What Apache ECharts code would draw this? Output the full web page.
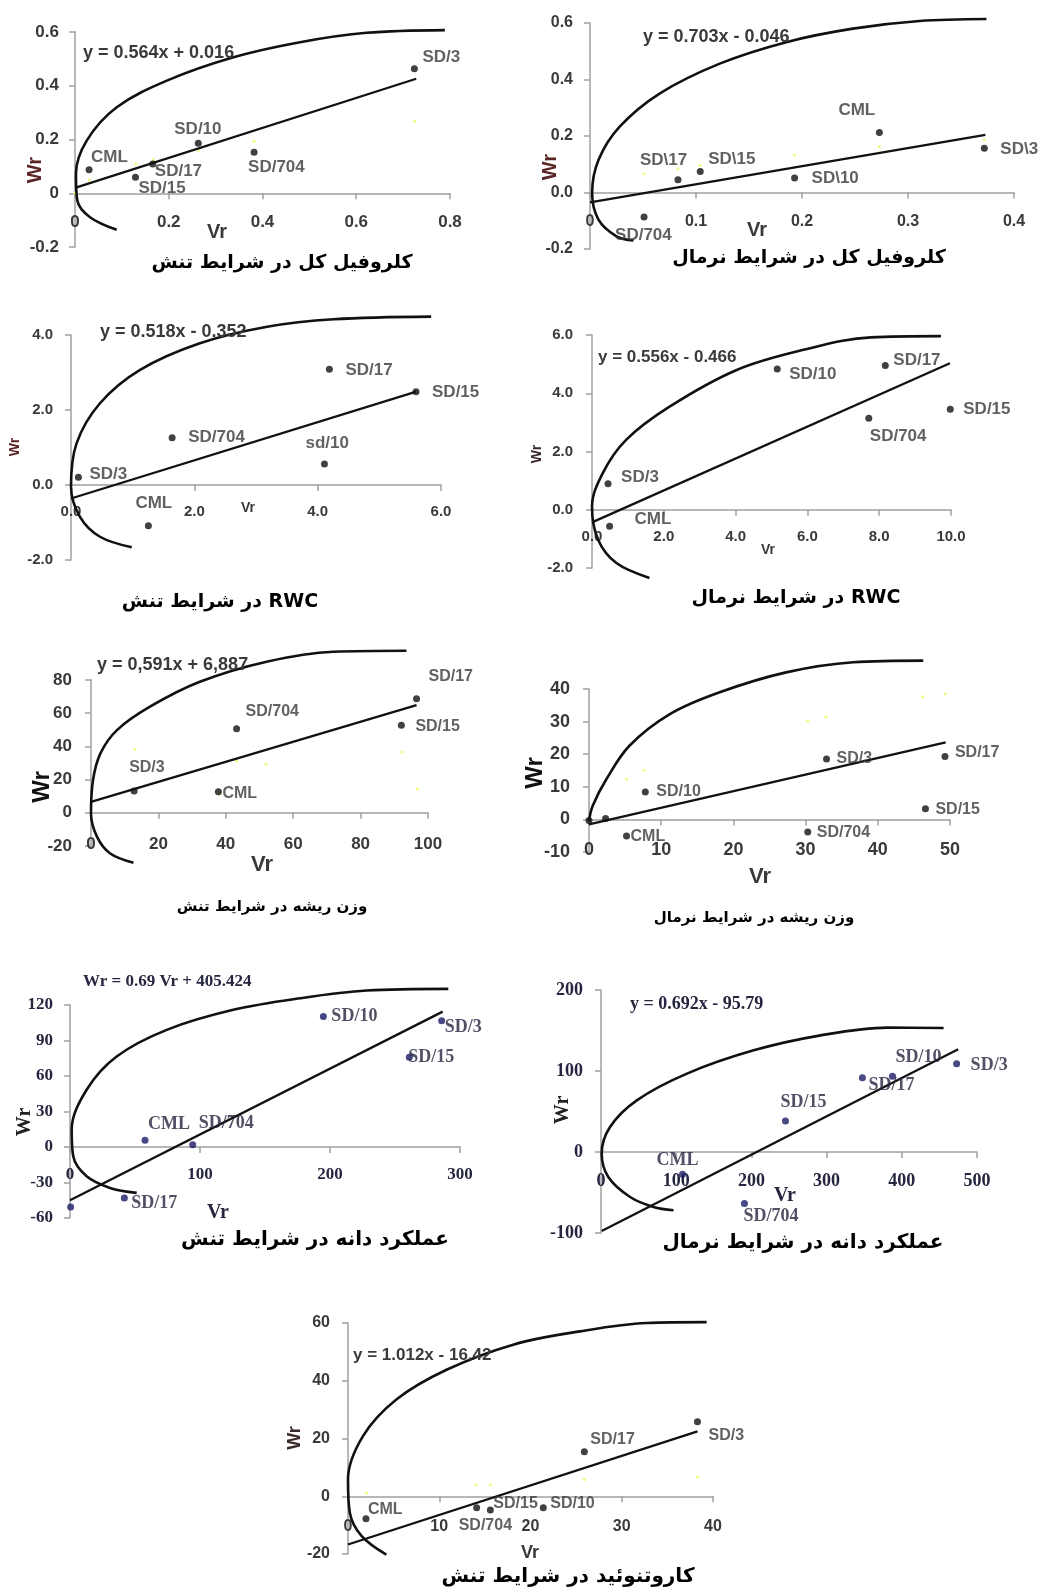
<!DOCTYPE html>
<html>
<head>
<meta charset="utf-8">
<script src="https://cdn.jsdelivr.net/npm/echarts@6/dist/echarts.min.js"></script>
<style>
  html, body { margin: 0; padding: 0; background: #fff; }
  #chart { width: 1041px; height: 1594px; }
</style>
</head>
<body>
<div id="chart"></div>
<script>
// ---- data (Vr, Wr per genotype) ----
// chlorophyll, stress
const p1Names = ['CML', 'SD/15', 'SD/17', 'SD/10', 'SD/704', 'SD/3'];
const p1Vr = [0.03, 0.129, 0.166, 0.263, 0.382, 0.724];
const p1Wr = [0.087, 0.06, 0.109, 0.186, 0.153, 0.463];
const p1Fit = [[0, 0.02], [0.728, 0.426]];
const p1Curve = [[0.789, 0.607], [0.622, 0.597], [0.48, 0.562], [0.338, 0.506], [0.196, 0.419], [0.089, 0.32], [0.025, 0.196], [0.002, 0.072], [0.005, -0.027], [0.032, -0.089], [0.089, -0.136]];
const p1Yellow = [[0, 0], [0.03, 0.05], [0.13, 0.11], [0.166, 0.125], [0.263, 0.16], [0.382, 0.193], [0.724, 0.267]];

// chlorophyll, normal
const p2Names = ['SD/704', 'SD\\17', 'SD\\15', 'SD\\10', 'CML', 'SD\\3'];
const p2Vr = [0.051, 0.083, 0.104, 0.193, 0.273, 0.372];
const p2Wr = [-0.087, 0.045, 0.074, 0.051, 0.212, 0.157];
const p2Fit = [[0, -0.035], [0.373, 0.204]];
const p2Curve = [[0.374, 0.614], [0.311, 0.607], [0.248, 0.58], [0.186, 0.533], [0.123, 0.457], [0.066, 0.351], [0.028, 0.233], [0.008, 0.115], [0.002, -0.002], [0.008, -0.096], [0.025, -0.155], [0.041, -0.17]];
const p2Yellow = [[0.051, 0.066], [0.083, 0.084], [0.104, 0.096], [0.193, 0.133], [0.273, 0.162], [0.372, 0.188]];

// RWC, stress
const p3Names = ['SD/3', 'CML', 'SD/704', 'sd/10', 'SD/17', 'SD/15'];
const p3Vr = [0.12, 1.255, 1.64, 4.11, 4.19, 5.595];
const p3Wr = [0.205, -1.085, 1.262, 0.56, 3.085, 2.49];
const p3Fit = [[0, -0.36], [5.6, 2.49]];
const p3Curve = [[5.84, 4.49], [4.26, 4.42], [3.18, 4.22], [2.09, 3.78], [1.12, 3.07], [0.47, 2.18], [0.09, 1.11], [0, -0.04], [0.146, -0.85], [0.47, -1.38], [0.985, -1.66]];
const p3Yellow = [];

// RWC, normal
const p4Names = ['SD/3', 'CML', 'SD/10', 'SD/704', 'SD/17', 'SD/15'];
const p4Vr = [0.447, 0.49, 5.16, 7.71, 8.17, 9.98];
const p4Wr = [0.89, -0.57, 4.83, 3.14, 4.95, 3.45];
const p4Fit = [[0, -0.435], [9.97, 5.03]];
const p4Curve = [[9.72, 5.96], [7.77, 5.92], [5.89, 5.49], [4.03, 4.8], [2.16, 3.54], [0.95, 2.4], [0.3, 1.26], [0, 0.11], [0.17, -1.03], [0.68, -1.83], [1.6, -2.34]];
const p4Yellow = [];

// root weight, stress
const p5Names = ['SD/3', 'CML', 'SD/704', 'SD/15', 'SD/17'];
const p5Vr = [12.8, 37.8, 43.2, 92.1, 96.6];
const p5Wr = [13.1, 12.7, 50.6, 52.8, 68.7];
const p5Fit = [[0, 6.6], [96.6, 64.9]];
const p5Curve = [[93.6, 97.6], [71.9, 97], [52.1, 91], [32.3, 78.9], [17.5, 63.9], [7.7, 49.8], [2.8, 35.8], [0.6, 19.7], [0, -0.4], [1.8, -14.5], [5.7, -24.5], [12.6, -30.1]];
const p5Yellow = [[13.1, 38.2], [43.2, 31.3], [51.9, 29.3], [92.3, 36.7], [96.8, 14.3], [38, 11.3]];

// root weight, normal
const p6Names = ['', '', 'CML', 'SD/10', 'SD/704', 'SD/3', 'SD/15', 'SD/17'];
const p6Vr = [0, 2.3, 5.2, 7.8, 30.3, 32.9, 46.6, 49.3];
const p6Wr = [-0.3, 0.3, -5.1, 8.4, -3.9, 18.5, 3.3, 19.3];
const p6Fit = [[0, -1.5], [49.4, 23.6]];
const p6Curve = [[46.3, 48.7], [36.6, 48.2], [27.3, 45.1], [18.1, 39], [11.2, 32.3], [5.6, 22.6], [2.4, 12.3], [0.5, 4.1], [0, -0.5]];
const p6Yellow = [[5.2, 12.3], [7.6, 15.1], [30.3, 30.1], [32.8, 31.5], [46.2, 37.6], [49.3, 38.5]];

// grain yield, stress
const p7Names = ['', 'SD/17', 'CML', 'SD/704', 'SD/10', 'SD/15', 'SD/3'];
const p7Vr = [0.5, 41.8, 57.7, 94.4, 194.9, 261, 285.9];
const p7Wr = [-50.6, -43, 5.6, 1.9, 110.2, 75.9, 106.6];
const p7Fit = [[0, -45], [286.7, 114.4]];
const p7Curve = [[291, 133.6], [228.2, 132.2], [176.9, 125.7], [125.6, 115.9], [74.4, 99], [35.9, 76.5], [12.8, 48.4], [1.3, 14.6], [2.5, -7.9], [12.8, -24.8], [30.8, -34.6], [51.3, -38.8]];
const p7Yellow = [];

// grain yield, normal
const p8Names = ['CML', 'SD/704', 'SD/15', 'SD/17', 'SD/10', 'SD/3'];
const p8Vr = [108.4, 190.7, 245.3, 347.6, 387.6, 472.9];
const p8Wr = [-27.5, -63.7, 38.3, 91.8, 93.5, 109.1];
const p8Fit = [[0.9, -97.5], [475, 126.8]];
const p8Curve = [[455.6, 153], [380.9, 153.6], [292, 144], [203, 125.5], [114.3, 96.8], [47.6, 63.8], [12, 30.9], [0.9, -2], [9.7, -30.9], [38.7, -55.6], [69.8, -67.9], [96.4, -72]];
const p8Yellow = [];

// carotenoid, stress
const p9Names = ['CML', 'SD/704', 'SD/15', 'SD/10', 'SD/17', 'SD/3'];
const p9Vr = [1.97, 14.1, 15.6, 21.4, 25.9, 38.3];
const p9Wr = [-7.8, -4.0, -4.8, -4.0, 15.4, 25.8];
const p9Fit = [[0, -16.7], [38.3, 22.5]];
const p9Curve = [[39.3, 60.3], [32.7, 60], [25.4, 57.1], [18.1, 52.5], [10.8, 43.8], [5.3, 33.5], [1.64, 20.8], [0, 5.8], [0.2, -5.7], [1.5, -13.8], [4.2, -20.2]];
const p9Yellow = [[2, 1.2], [14, 4], [15.6, 4], [25.9, 5.8], [38.3, 6.7]];

// texts
const equations = ['y = 0.564x + 0.016', 'y = 0.703x - 0.046', 'y = 0.518x - 0.352', 'y = 0.556x - 0.466',
  'y = 0,591x + 6,887', '', 'Wr = 0.69 Vr + 405.424', 'y = 0.692x - 95.79', 'y = 1.012x - 16.42'];
const titles = ['کلروفیل کل در شرایط تنش', 'کلروفیل کل در شرایط نرمال', 'در شرایط تنش RWC', 'در شرایط نرمال RWC',
  'وزن ریشه در شرایط تنش', 'وزن ریشه در شرایط نرمال', 'عملکرد دانه در شرایط تنش', 'عملکرد دانه در شرایط نرمال',
  'کاروتنوئید در شرایط تنش'];

// label offsets (label left edge / middle, relative to the dot)
const p1LabelAt = [[2, -13], [3, 11], [2, 7], [-24, -14], [-6, 15], [8, -12]];
const p2LabelAt = [[-29, 18], [-38, -19], [8, -12], [17, 0], [-41, -22], [16, 1]];
const p3LabelAt = [[11, -3], [-13, -22], [16, 0], [-19, -21], [16, 1], [16, 1]];
const p4LabelAt = [[13, -7], [25, -7], [12, 5], [1, 18], [8, -5], [13, 0]];
const p5LabelAt = [[-5, -23], [4, 2], [9, -17], [14, 1], [12, -22]];
const p6LabelAt = [[0, 0], [0, 0], [4, 1], [11, 0], [9, 0], [10, 0], [10, 1], [10, -4]];
const p7LabelAt = [[0, 0], [7, 5], [3, -16], [6, -21], [8, 0], [-1, 0], [3, 6]];
const p8LabelAt = [[-26, -14], [-1, 13], [-5, -19], [6, 8], [3, -19], [14, 2]];
const p9LabelAt = [[2, -9], [-18, 18], [3, -7], [7, -4], [6, -12], [11, 14]];

const SANS = '"Liberation Sans", Arial, sans-serif';
const SERIF = '"Liberation Serif", "Times New Roman", serif';
const FA = '"DejaVu Sans", sans-serif';

const one = v => v.toFixed(1);
const plain = v => String(+v.toFixed(3));
const zeroDot = v => v === 0 ? '0.0' : String(+v.toFixed(3));

const panels = [
  { names: p1Names, vr: p1Vr, wr: p1Wr, fit: p1Fit, curve: p1Curve, yellow: p1Yellow, at: p1LabelAt,
    box: [75, 32, 375, 215], x: [0, 0.8, 0.2], y: [-0.2, 0.6, 0.2], fx: plain, fy: plain, xm: 21, ym: 16,
    fam: SANS, fs: 17, lfs: 17, efs: 18, eq: [83, 53], vrAt: [217, 232, 20], wrAt: [35, 170, 20], tAt: [282, 263, 19],
    dot: '#111', wrColor: '#5a2525' },
  { names: p2Names, vr: p2Vr, wr: p2Wr, fit: p2Fit, curve: p2Curve, yellow: p2Yellow, at: p2LabelAt,
    box: [590, 23, 424, 226], x: [0, 0.4, 0.1], y: [-0.2, 0.6, 0.2], fx: plain, fy: zeroDot, xm: 21, ym: 17,
    fam: SANS, fs: 16, lfs: 17, efs: 18, eq: [643, 37], vrAt: [757, 230, 20], wrAt: [550, 167, 20], tAt: [809, 258, 19],
    dot: '#111', wrColor: '#5a2525' },
  { names: p3Names, vr: p3Vr, wr: p3Wr, fit: p3Fit, curve: p3Curve, yellow: p3Yellow, at: p3LabelAt,
    box: [71, 335, 370, 225], x: [0, 6, 2], y: [-2, 4, 2], fx: one, fy: one, xm: 19, ym: 18,
    fam: SANS, fs: 15, lfs: 17, efs: 18, eq: [100, 332], vrAt: [248, 508, 14], wrAt: [15, 447, 14], tAt: [220, 602, 19],
    dot: '#111', wrColor: '#5a2525' },
  { names: p4Names, vr: p4Vr, wr: p4Wr, fit: p4Fit, curve: p4Curve, yellow: p4Yellow, at: p4LabelAt,
    box: [592, 335, 359, 233], x: [0, 10, 2], y: [-2, 6, 2], fx: one, fy: one, xm: 20, ym: 19,
    fam: SANS, fs: 15, lfs: 17, efs: 17, eq: [598, 357], vrAt: [768, 550, 14], wrAt: [537, 454, 14], tAt: [796, 598, 19],
    dot: '#111', wrColor: '#3a2a2a' },
  { names: p5Names, vr: p5Vr, wr: p5Wr, fit: p5Fit, curve: p5Curve, yellow: p5Yellow, at: p5LabelAt,
    box: [91, 680, 337, 166], x: [0, 100, 20], y: [-20, 80, 20], fx: plain, fy: plain, xm: 23, ym: 19,
    fam: SANS, fs: 17, lfs: 16, efs: 18, eq: [97, 665], vrAt: [262, 865, 22], wrAt: [42, 787, 24], tAt: [272, 907, 15],
    dot: '#111', wrColor: '#111' },
  { names: p6Names, vr: p6Vr, wr: p6Wr, fit: p6Fit, curve: p6Curve, yellow: p6Yellow, at: p6LabelAt,
    box: [589, 689, 361, 163], x: [0, 50, 10], y: [-10, 40, 10], fx: plain, fy: plain, xm: 22, ym: 19,
    fam: SANS, fs: 18, lfs: 16, efs: 17, eq: [0, 0], vrAt: [760, 877, 22], wrAt: [535, 773, 24], tAt: [754, 918, 15],
    dot: '#111', wrColor: '#111' },
  { names: p7Names, vr: p7Vr, wr: p7Wr, fit: p7Fit, curve: p7Curve, yellow: p7Yellow, at: p7LabelAt,
    box: [70, 1005, 390, 213], x: [0, 300, 100], y: [-60, 120, 30], fx: plain, fy: plain, xm: 19, ym: 17,
    fam: SERIF, fs: 17, lfs: 18, efs: 17, eq: [83, 982], vrAt: [218, 1213, 20], wrAt: [25, 1122, 20], tAt: [315, 1240, 20],
    dot: '#1a1a66', wrColor: '#222' },
  { names: p8Names, vr: p8Vr, wr: p8Wr, fit: p8Fit, curve: p8Curve, yellow: p8Yellow, at: p8LabelAt,
    box: [601, 990, 376, 243], x: [0, 500, 100], y: [-100, 200, 100], fx: plain, fy: plain, xm: 20, ym: 18,
    fam: SERIF, fs: 18, lfs: 18, efs: 18, eq: [630, 1004], vrAt: [785, 1196, 20], wrAt: [563, 1110, 20], tAt: [803, 1243, 20],
    dot: '#1a1a66', wrColor: '#222' },
  { names: p9Names, vr: p9Vr, wr: p9Wr, fit: p9Fit, curve: p9Curve, yellow: p9Yellow, at: p9LabelAt,
    box: [348, 1323, 365, 231], x: [0, 40, 10], y: [-20, 60, 20], fx: plain, fy: plain, xm: 22, ym: 18,
    fam: SANS, fs: 16, lfs: 16, efs: 17, eq: [353, 1355], vrAt: [530, 1553, 18], wrAt: [295, 1438, 18], tAt: [568, 1577, 20],
    dot: '#111', wrColor: '#3a2a2a' }
];

const chart = echarts.init(document.querySelector('#chart'), null, { renderer: 'canvas' });
const option = { animation: false, grid: [], xAxis: [], yAxis: [], series: [], graphic: [] };

panels.forEach((p, i) => {
  const [left, top, width, height] = p.box;
  const ink = p.fam === SERIF ? '#262640' : '#3a3a3a';
  option.grid.push({ left, top, width, height });
  const axisBase = {
    type: 'value', gridIndex: i, splitLine: { show: false },
    axisLine: { onZero: false, lineStyle: { color: '#a0a0a0', width: 1.5 } },
    axisTick: { show: true, length: 6, lineStyle: { color: '#a0a0a0', width: 1.5 } }
  };
  const lbl = (fmt, margin) => ({ formatter: fmt, margin, color: ink, fontSize: p.fs, fontWeight: 'bold',
    fontFamily: p.fam, showMinLabel: true, showMaxLabel: true });
  // x axis sits on Wr = 0: shift it up from the grid bottom
  const lift = height * (0 - p.y[0]) / (p.y[1] - p.y[0]);
  option.xAxis.push(Object.assign({}, axisBase, { position: 'bottom', offset: -lift,
    min: p.x[0], max: p.x[1], interval: p.x[2], axisLabel: lbl(p.fx, p.xm) }));
  option.yAxis.push(Object.assign({}, axisBase, { position: 'left',
    min: p.y[0], max: p.y[1], interval: p.y[2], axisLabel: lbl(p.fy, p.ym) }));

  const line = (data, smooth, width) => ({
    type: 'line', xAxisIndex: i, yAxisIndex: i, data, smooth, showSymbol: false, symbol: 'none',
    clip: false, silent: true, lineStyle: { color: '#111', width }, z: 3
  });
  option.series.push(line(p.curve, 0.35, 2.6));
  option.series.push(line(p.fit, false, 2.3));
  option.series.push({
    type: 'scatter', xAxisIndex: i, yAxisIndex: i, symbolSize: 3, silent: true, z: 2,
    itemStyle: { color: '#f2f25a' }, data: p.yellow
  });
  option.series.push({
    type: 'scatter', xAxisIndex: i, yAxisIndex: i, symbolSize: 7, z: 5, clip: false,
    itemStyle: { color: p.dot },
    label: { show: true, position: 'inside', align: 'left', verticalAlign: 'middle', color: ink,
      fontSize: p.lfs, fontWeight: 'bold', fontFamily: p.fam, formatter: d => d.name },
    data: p.vr.map((v, k) => ({ value: [v, p.wr[k]], name: p.names[k], label: { offset: p.at[k] } }))
  });

  const text = (x, y, str, fs, fam, fill, extra) => Object.assign({
    type: 'text', x, y, silent: true, z: 10,
    style: { text: str, fontSize: fs, fontWeight: 'bold', fontFamily: fam, fill, align: 'center', verticalAlign: 'middle' }
  }, extra || {});
  if (equations[i]) {
    const t = text(p.eq[0], p.eq[1], equations[i], p.efs, p.fam, ink);
    t.style.align = 'left';
    option.graphic.push(t);
  }
  option.graphic.push(text(p.vrAt[0], p.vrAt[1], 'Vr', p.vrAt[2], p.fam, ink));
  option.graphic.push(text(p.wrAt[0], p.wrAt[1], 'Wr', p.wrAt[2], p.fam, p.wrColor, { rotation: Math.PI / 2 }));
  option.graphic.push(text(p.tAt[0], p.tAt[1], titles[i], p.tAt[2], FA, '#000'));
});

chart.setOption(option);
</script>
</body>
</html>
